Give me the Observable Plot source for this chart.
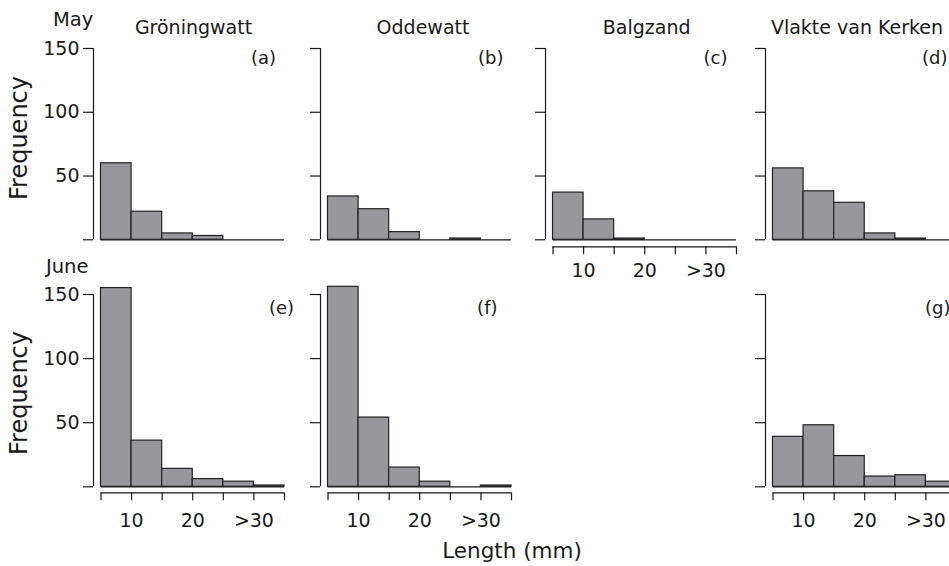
<!DOCTYPE html>
<html><head><meta charset="utf-8">
<script src="https://cdn.jsdelivr.net/npm/d3@7"></script>
<script src="https://cdn.jsdelivr.net/npm/@observablehq/plot@0.6"></script>
<style>
html,body{margin:0;padding:0;background:#fff;overflow:hidden;}
#chart{position:relative;width:949px;height:566px;overflow:hidden;font-family:"DejaVu Sans",sans-serif;color:#1a1a1a;}
.panel{position:absolute;}
.lbl{position:absolute;white-space:nowrap;line-height:1;}
</style></head><body><div id="chart"></div>
<script>
// ---- data ----
const sites = ["Gröningwatt", "Oddewatt", "Balgzand", "Vlakte van Kerken"];
const months = ["May", "June"];
const binEdges = [5, 10, 15, 20, 25, 30, 35];          // length classes (mm); last class = >30
const xTickValues = [10, 20, 30];
const xTickLabels = ["10", "20", ">30"];
const yTicks = [0, 50, 100, 150];
const panelLetters = ["(a)", "(b)", "(c)", "(d)", "(e)", "(f)", "(g)"];

const mayGroningwatt  = [60, 22, 5, 3, 0, 0];
const mayOddewatt     = [34, 24, 6, 0, 1, 0];
const mayBalgzand     = [37, 16, 1, 0, 0, 0];
const mayVlakte       = [56, 38, 29, 5, 1, 0];
const juneGroningwatt = [155, 36, 14, 6, 4, 1];
const juneOddewatt    = [156, 54, 15, 4, 0, 1];
const juneVlakte      = [39, 48, 24, 8, 9, 4];

// ---- layout ----
const colAxisX = [93, 320, 545, 765];
const rowTop = [48, 294];
const rowBase = [239.3, 486.3];
const rowAxisOff = [7, 6];
const rowTickPad = [9, 13];
const rowLetterDy = [10, 13.5];
const gap = 7.5, barW = 183.5;
const ML = 60, MR = 20, MT = 30, MB = 45;

const panels = [
  {row: 0, col: 0, values: mayGroningwatt,  letter: panelLetters[0], ldx: -8.5, xAxis: false},
  {row: 0, col: 1, values: mayOddewatt,     letter: panelLetters[1], ldx: -8,   xAxis: false},
  {row: 0, col: 2, values: mayBalgzand,     letter: panelLetters[2], ldx: -9,   xAxis: true},
  {row: 0, col: 3, values: mayVlakte,       letter: panelLetters[3], ldx: -9,   xAxis: false},
  {row: 1, col: 0, values: juneGroningwatt, letter: panelLetters[4], ldx: 9.5,  xAxis: true},
  {row: 1, col: 1, values: juneOddewatt,    letter: panelLetters[5], ldx: -14,  xAxis: true},
  {row: 1, col: 3, values: juneVlakte,      letter: panelLetters[6], ldx: -6,   xAxis: true}
];

const chart = document.getElementById("chart");
const INK = "#1a1a1a";

for (const p of panels) {
  const plotH = rowBase[p.row] - rowTop[p.row];
  const axisOff = rowAxisOff[p.row];
  const width = ML + gap + barW + MR;
  const height = MT + plotH + axisOff + MB;
  const bins = p.values.map((n, i) => ({x1: binEdges[i], x2: binEdges[i + 1], n}));
  const tickFmt = d => { const k = xTickValues.indexOf(d); return k >= 0 ? xTickLabels[k] : ""; };
  const marks = [
    Plot.ruleY([0], {x1: binEdges[0], x2: binEdges[binEdges.length - 1], stroke: INK, strokeWidth: 1.2}),
    Plot.rect(bins, {x1: "x1", x2: "x2", y1: 0, y2: "n", fill: "#98979c", stroke: "#222", strokeWidth: 1.2}),
    Plot.ruleX([binEdges[0]], {y1: yTicks[0], y2: yTicks[yTicks.length - 1], dx: -gap, stroke: INK, strokeWidth: 1.2}),
    Plot.axisY({ticks: yTicks, tickSize: 10, tickPadding: 4, strokeWidth: 1.2, dy: 0,
      tickFormat: d => (p.col === 0 && d !== 0) ? String(d) : "", label: null}),
    Plot.text([p.letter], {frameAnchor: "top-right", text: d => d, dx: p.ldx, dy: rowLetterDy[p.row],
      lineAnchor: "middle", fontSize: 18, fill: INK})
  ];
  if (p.xAxis) {
    marks.push(
      Plot.ruleY([0], {x1: binEdges[0], x2: binEdges[binEdges.length - 1], dy: axisOff, stroke: INK, strokeWidth: 1.2}),
      Plot.axisX({ticks: binEdges, tickSize: 8, tickPadding: rowTickPad[p.row], strokeWidth: 1.2,
        tickFormat: tickFmt, label: null})
    );
  } else {
    marks.push(Plot.axisX({ticks: [], label: null}));
  }
  const svg = Plot.plot({
    width, height,
    marginLeft: ML, marginRight: MR, marginTop: MT, marginBottom: MB,
    x: {domain: [binEdges[0], binEdges[binEdges.length - 1]], range: [ML + gap, ML + gap + barW]},
    y: {domain: [yTicks[0], yTicks[yTicks.length - 1]], range: [MT + plotH, MT]},
    style: {background: "transparent", fontFamily: "DejaVu Sans", fontSize: "19px", color: INK, maxWidth: "none", overflow: "visible"},
    marks
  });
  const holder = document.createElement("div");
  holder.className = "panel";
  holder.style.left = (colAxisX[p.col] - ML) + "px";
  holder.style.top = (rowTop[p.row] - MT) + "px";
  holder.style.width = width + "px";
  holder.style.height = height + "px";
  holder.appendChild(svg);
  chart.appendChild(holder);
}

// ---- text ----
function addText(txt, x, baseline, size, center) {
  const d = document.createElement("div");
  d.className = "lbl";
  d.textContent = txt;
  d.style.fontSize = size + "px";
  d.style.left = x + "px";
  d.style.top = (baseline - 0.846 * size) + "px";
  if (center) d.style.transform = "translateX(-50%)";
  chart.appendChild(d);
  return d;
}
const titleCenters = [193.5, 423, 646.7, 857];
sites.forEach((s, i) => addText(s, titleCenters[i], 34.5, 19, true));
addText(months[0], 53, 26.7, 19.5, false);
addText(months[1], 46, 273.3, 19.5, false);
addText("Length (mm)", 512, 558, 21.5, true);
for (const cy of [137.5, 393]) {
  const d = document.createElement("div");
  d.className = "lbl";
  d.textContent = "Frequency";
  d.style.fontSize = "24px";
  d.style.left = "19px";
  d.style.top = cy + "px";
  d.style.transform = "translate(-50%,-50%) rotate(-90deg)";
  chart.appendChild(d);
}
</script></body></html>
